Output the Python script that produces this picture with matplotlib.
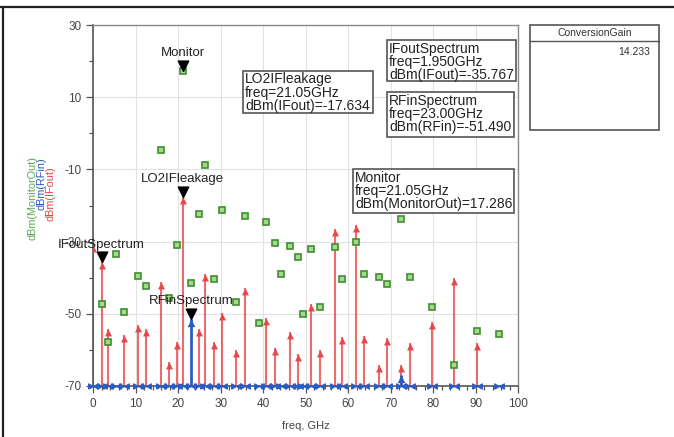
import numpy as np
import matplotlib
matplotlib.use("Agg")
import matplotlib.pyplot as plt
from matplotlib.patches import Rectangle
from matplotlib.lines import Line2D

plt.rcParams['font.family'] = ['Liberation Sans', 'DejaVu Sans']
plt.rcParams['axes.unicode_minus'] = False

# IFout spectrum (red stems), GHz / dBm
if_freq = [0, 1.95, 3.4, 7.2, 10.5, 12.5, 15.9, 17.7, 19.7, 21.05, 24.9, 26.4, 28.3,
           30.3, 33.6, 35.6, 40.7, 42.7, 46.2, 48.2, 51.3, 53.3, 56.8, 58.6, 61.9,
           63.8, 67.2, 69.1, 72.5, 74.5, 79.8, 84.9, 90.2]
if_dbm = [-31.0, -35.767, -54.2, -55.9, -53.1, -54.2, -41.1, -63.3, -57.7, -17.634,
          -54.2, -39.0, -57.8, -49.7, -60.0, -42.9, -51.2, -59.6, -55.1, -61.2,
          -47.2, -60.0, -26.6, -56.3, -25.4, -56.1, -64.2, -56.6, -64.2, -58.2,
          -52.2, -40.2, -58.2]

# RFin spectrum (blue stems) - only two tones visible above -70
rf_freq = [23.0, 72.5]
rf_dbm = [-51.49, -67.0]

# MonitorOut (green squares)
mon_freq = [1.95, 3.4, 5.3, 7.2, 10.5, 12.5, 15.9, 17.7, 19.7, 21.05, 23.0, 24.9,
            26.4, 28.3, 30.3, 33.6, 35.6, 38.9, 40.7, 42.7, 44.1, 46.2, 48.2, 49.3,
            51.3, 53.3, 56.8, 58.6, 61.9, 63.8, 67.2, 69.1, 72.5, 74.5, 79.8, 84.9,
            90.2, 95.5]
mon_dbm = [-47.3, -57.7, -33.5, -49.4, -39.5, -42.3, -4.6, -45.7, -30.9, 17.286,
           -41.4, -22.4, -8.8, -40.4, -21.2, -46.6, -22.8, -52.6, -24.6, -30.3,
           -39.1, -31.2, -34.2, -50.1, -32.0, -48.2, -31.6, -40.3, -30.2, -39.1,
           -39.9, -41.7, -23.8, -39.8, -48.0, -64.3, -54.8, -55.6]

# markers: name, freq, value
markers = [
    ("Monitor", 21.05, 17.286),
    ("LO2IFleakage", 21.05, -17.634),
    ("IFoutSpectrum", 1.95, -35.767),
    ("RFinSpectrum", 23.0, -51.49),
]
conv_gain = "14.233"

RED = '#e8474a'
BLUE = '#2c5cc0'
W, H = 674, 437
ymin, ymax = -70, 30

fig = plt.figure(figsize=(W / 100, H / 100), dpi=100)
ax = fig.add_axes([93.3 / W, 1 - 386 / H, 425 / W, 361 / H])
ax.set_xlim(0, 100)
ax.set_ylim(ymin, ymax)

ax.set_xticks(np.arange(0, 101, 10))
ax.set_xticks(np.arange(0, 101, 2), minor=True)
ax.set_yticks(np.arange(-70, 31, 20))
ax.set_yticks(np.arange(-70, 31, 10), minor=True)
ax.grid(True, which='major', color='#e2e2e2', lw=0.8)
ax.set_axisbelow(True)
ax.tick_params(which='both', direction='out', colors='#555555', labelcolor='#444444',
               labelsize=8.5, width=0.9)
ax.tick_params(which='major', length=5)
ax.tick_params(which='minor', length=3)
for s in ['left', 'bottom']:
    ax.spines[s].set_color('#555555')
    ax.spines[s].set_linewidth(1.2)
for s in ['top', 'right']:
    ax.spines[s].set_color('#8a8a8a')
    ax.spines[s].set_linewidth(1.0)
ax.set_xlabel("freq, GHz", fontsize=8, color='#444444', labelpad=8)

# arrow heads with the tip on the data point
up_tri = [(0, 0), (-0.5, -1), (0.5, -1), (0, 0)]
down_tri = [(0, 0), (-0.5, 1), (0.5, 1), (0, 0)]
bowtie = [(-1, -0.55), (-1, 0.55), (1, -0.55), (1, 0.55), (-1, -0.55)]

# blue baseline markers at every spectral line
all_freq = sorted(set(if_freq) | set(mon_freq))
ax.plot(all_freq, [ymin] * len(all_freq), ls='none', marker=bowtie, ms=7,
        color=BLUE, mew=0.8, clip_on=False, zorder=3)

ax.vlines(if_freq, ymin, if_dbm, color=RED, lw=1.5, alpha=0.8, zorder=2)
ax.plot(if_freq, if_dbm, ls='none', marker=up_tri, ms=10, color=RED, mew=0, zorder=3)
ax.vlines(rf_freq, ymin, rf_dbm, color=BLUE, lw=2.0, zorder=2)
ax.plot(rf_freq, rf_dbm, ls='none', marker=up_tri, ms=11, color=BLUE, mew=0, zorder=3)
ax.plot(mon_freq, mon_dbm, ls='none', marker='s', ms=4.2, mfc='#a6d98f',
        mec='#3f8f2f', mew=1.2, zorder=3)

for name, f, v in markers:
    ax.plot([f], [v], ls='none', marker=down_tri, ms=15, color='black', zorder=5)
    ax.annotate(name, (f, v), xytext=(0, 8.5), textcoords='offset points',
                ha='center', va='bottom', fontsize=9.5, color='#222222', zorder=6)

# y axis labels, one per trace
for txt, c, x, y in [("dBm(MonitorOut)", '#5aa84a', 32, 198),
                     ("dBm(RFin)", BLUE, 41.5, 184),
                     ("dBm(IFout)", RED, 51, 194)]:
    fig.text(x / W, 1 - y / H, txt, rotation=90, ha='center', va='center',
             fontsize=7.8, color=c)


def box(x0, y0, x1, y1):
    fig.add_artist(Rectangle((x0 / W, 1 - y1 / H), (x1 - x0) / W, (y1 - y0) / H,
                             transform=fig.transFigure, fc='white', ec='#555555',
                             lw=1.2, zorder=10))


def readout(x0, y0, x1, y1, lines):
    box(x0, y0, x1, y1)
    fig.text((x0 + 2) / W, 1 - (y0 + 1.5) / H, "\n".join(lines), ha='left', va='top',
             fontsize=10, linespacing=0.92, color='#222222', zorder=11)


readout(243, 71, 373, 113, ["LO2IFleakage", "freq=21.05GHz", "dBm(IFout)=-17.634"])
readout(387, 40, 516, 81, ["IFoutSpectrum", "freq=1.950GHz", "dBm(IFout)=-35.767"])
readout(387, 92, 514, 137, ["RFinSpectrum", "freq=23.00GHz", "dBm(RFin)=-51.490"])
readout(353, 169, 514, 213, ["Monitor", "freq=21.05GHz", "dBm(MonitorOut)=17.286"])

# conversion gain table
box(530, 25, 659, 130)
fig.add_artist(Line2D([530 / W, 659 / W], [1 - 40.5 / H, 1 - 40.5 / H],
                      transform=fig.transFigure, color='#555555', lw=1.0, zorder=11))
fig.text(594.5 / W, 1 - 32.5 / H, "ConversionGain", ha='center', va='center',
         fontsize=7.5, color='#333333', zorder=11)
fig.text(650 / W, 1 - 52 / H, conv_gain, ha='right', va='center',
         fontsize=7.5, color='#333333', zorder=11)

# outer frame (top and left edges)
fig.add_artist(Line2D([0, 1], [1 - 7 / H, 1 - 7 / H], transform=fig.transFigure,
                      color='#222222', lw=1.6))
fig.add_artist(Line2D([3 / W, 3 / W], [0, 1 - 7 / H], transform=fig.transFigure,
                      color='#222222', lw=1.6))

fig.savefig("out.png", dpi=100)
